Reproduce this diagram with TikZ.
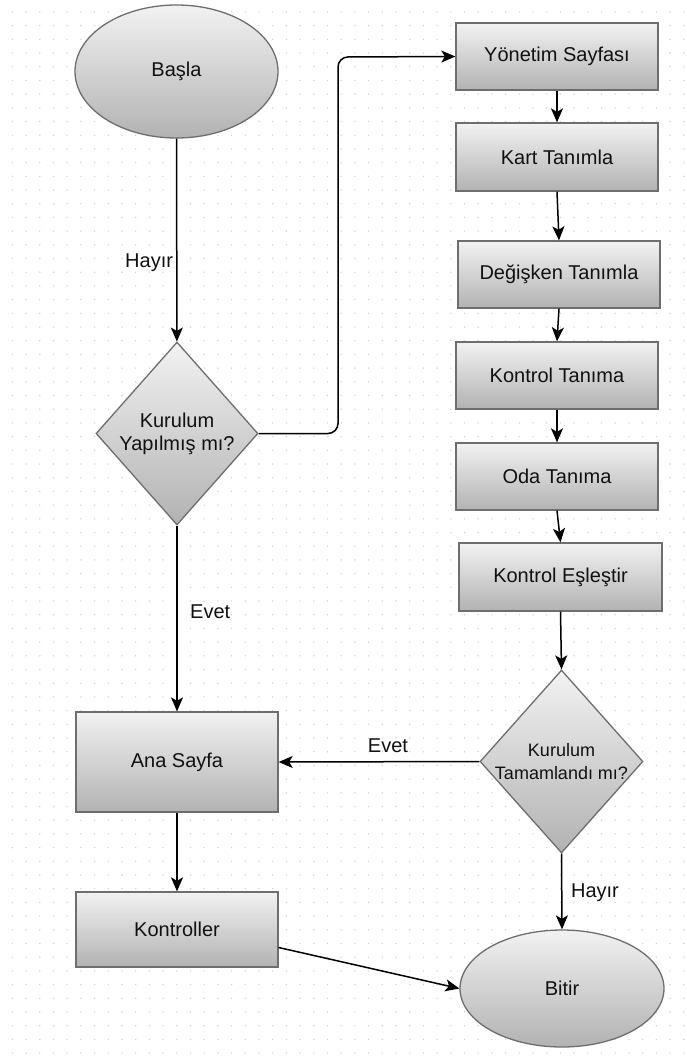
\documentclass[tikz,border=0pt]{standalone}
\usepackage{fontspec}
\setmainfont{Liberation Sans}
\usetikzlibrary{shapes.geometric,arrows.meta,calc}
\definecolor{boxtop}{HTML}{F2F2F2}
\definecolor{boxbot}{HTML}{B2B2B2}
\definecolor{boxline}{HTML}{6E6E6E}
\definecolor{griddot}{HTML}{D2D2D2}
\definecolor{txt}{HTML}{111111}
\tikzset{
  base/.style={draw=boxline, line width=1.3pt, top color=boxtop, bottom color=boxbot,
    inner sep=0pt, text=txt, font=\fontsize{20}{23}\selectfont, align=center},
  procbox/.style={base, rectangle, minimum width=202pt, minimum height=67pt},
  terminal/.style={base, ellipse},
  decision/.style={base, diamond},
  conn/.style={line width=1.5pt, draw=black, -{Stealth[length=14pt,width=12pt,inset=3.5pt]}},
  lbl/.style={font=\fontsize{20}{23}\selectfont, text=txt, inner sep=0pt}
}
\begin{document}
\begin{tikzpicture}[x=1pt,y=-1pt]
\useasboundingbox (0,0) rectangle (687,1058);
\fill[white] (0,0) rectangle (687,1058);
\foreach \i in {0,...,50}{
  \foreach \j in {0,...,77}{
    \fill[griddot] (12.4+\i*13.7, 11.9+\j*13.7) circle (0.8);
  }
}
% nodes
\node[terminal, minimum width=203pt, minimum height=133pt] (start) at (176.5,71.5) {Başla};
\node[decision, minimum width=162pt, minimum height=183pt] (d1) at (177,433.5) {Kurulum\\Yapılmış mı?};
\node[procbox] (yon) at (557,56.5) {Yönetim Sayfası};
\node[procbox, minimum height=68pt] (kart) at (557,157) {Kart Tanımla};
\node[procbox] (deg) at (559,274.5) {Değişken Tanımla};
\node[procbox] (kon) at (557,375.5) {Kontrol Tanıma};
\node[procbox] (oda) at (557,476.5) {Oda Tanıma};
\node[procbox, minimum width=203pt, minimum height=68pt] (esl) at (560.5,577) {Kontrol Eşleştir};
\node[decision, minimum width=163pt, minimum height=183pt,
  label={[lbl, font=\fontsize{18}{23}\selectfont, align=center]center:Kurulum\\Tamamlandı mı?}] (d2) at (561.5,761.5) {};
\node[procbox, minimum height=100pt] (ana) at (177,762) {Ana Sayfa};
\node[procbox, minimum height=75pt] (ktr) at (177,929.5) {Kontroller};
\node[terminal, minimum width=204pt, minimum height=117pt] (bitir) at (562,988.5) {Bitir};
% connectors
\draw[conn] (start) -- node[lbl, anchor=east, pos=0.61, xshift=-3pt] (l1) {Hayır} (d1);
\draw[conn, rounded corners=10pt] (d1.east) -- (338,433.5) -- (338,57) -- (yon.west);
\draw[conn] (yon) -- (kart);
\draw[conn] (kart.south) -- (deg.north);
\draw[conn] (deg.south) -- (kon.north);
\draw[conn] (kon) -- (oda);
\draw[conn] (oda.south) -- (esl.north);
\draw[conn] (esl.south) -- (d2.north);
\draw[conn] (d1.south) -- (ana.north);
\node[lbl, anchor=west] (l2) at (190,612) {Evet};
\draw[conn] (d2.west) -- (ana.east);
\node[lbl] (l3) at (388,746) {Evet};
\draw[conn] (ana) -- (ktr);
\draw[conn] (d2.south) -- (bitir.north);
\node[lbl] (l4) at (595,893) {Hayır};
\draw[conn] ([yshift=-18pt]ktr.east) -- (bitir.west);
\end{tikzpicture}
\end{document}
